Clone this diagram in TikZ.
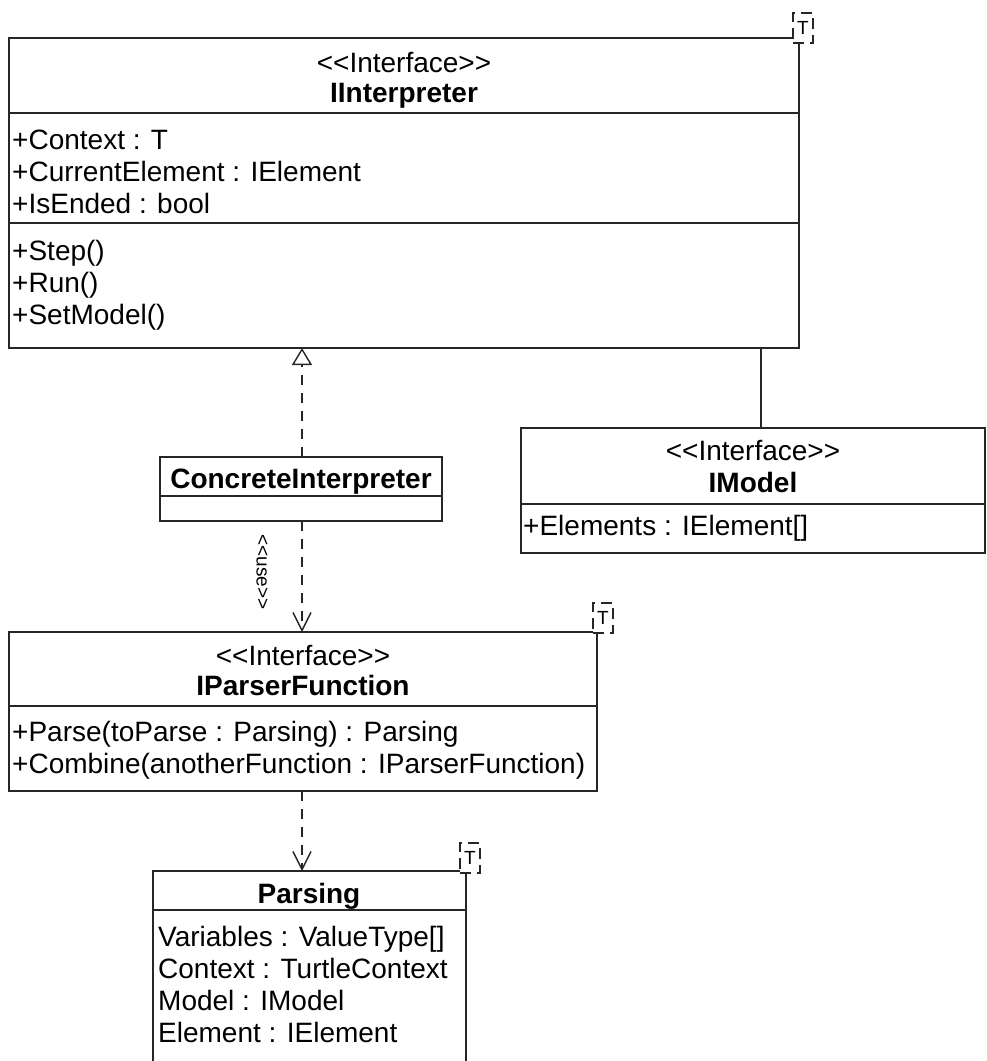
\documentclass[tikz,border=0pt]{standalone}
\usepackage{fontspec}
\newfontfamily\umlfont{Liberation Sans}
\usetikzlibrary{arrows.meta}
\begin{document}
\begin{tikzpicture}[x=1pt,y=-1pt,
  edge/.style={draw=black!85,line width=1.6pt},
  classbox/.style={edge,fill=white,rectangle,inner sep=0pt,outer sep=0pt,anchor=north west},
  tparam/.style={draw=black!85,line width=1.4pt,dash pattern=on 11pt off 6pt,fill=white,
    rectangle,inner sep=0pt,minimum width=20pt,minimum height=30pt,
    font=\umlfont\fontsize{19}{22}\selectfont},
  member/.style={inner sep=0pt,anchor=base west,font=\umlfont\fontsize{28}{34}\selectfont},
  stereo/.style={inner sep=0pt,anchor=base,font=\umlfont\fontsize{28}{34}\selectfont},
  cname/.style={inner sep=0pt,anchor=base,font=\umlfont\bfseries\fontsize{28}{34}\selectfont},
  dep/.style={edge,dash pattern=on 10pt off 8pt},
  realize/.style={dep,-{Triangle[open,length=17pt,width=20pt,line width=1.4pt]}},
  uses/.style={dep,-{Straight Barb[length=18pt,width=18pt,line width=1.4pt]}},
  steretag/.style={inner sep=0pt,rotate=-90,font=\umlfont\fontsize{19}{22}\selectfont}
]
\useasboundingbox (0,0) rectangle (987,1061);
\clip (0,0) rectangle (987,1061);

% IInterpreter
\node[classbox,minimum width=790pt,minimum height=310pt] (ii) at (9,38) {};
\draw[edge] ([yshift=-75pt]ii.north west) -- ([yshift=-75pt]ii.north east);
\draw[edge] ([yshift=-185pt]ii.north west) -- ([yshift=-185pt]ii.north east);
\node[stereo] (ii-st) at (404,72) {<<Interface>>};
\node[cname] (ii-nm) at (404,102) {IInterpreter};
\node[member] (ii-a1) at (12,149) {+Context : T};
\node[member] (ii-a2) at (12,181) {+CurrentElement : IElement};
\node[member] (ii-a3) at (12,213) {+IsEnded : bool};
\node[member] (ii-o1) at (12,260) {+Step()};
\node[member] (ii-o2) at (12,292) {+Run()};
\node[member] (ii-o3) at (12,324) {+SetModel()};
\node[tparam] (ii-t) at (803,28) {T};

% IModel
\node[classbox,minimum width=464pt,minimum height=125pt] (im) at (521,428) {};
\draw[edge] ([yshift=-76pt]im.north west) -- ([yshift=-76pt]im.north east);
\node[stereo] (im-st) at (753,460) {<<Interface>>};
\node[cname] (im-nm) at (753,492) {IModel};
\node[member] (im-a1) at (523,535) {+Elements : IElement[]};

% ConcreteInterpreter
\node[classbox,minimum width=282pt,minimum height=64pt] (ci) at (160,457) {};
\draw[edge] ([yshift=-39pt]ci.north west) -- ([yshift=-39pt]ci.north east);
\node[cname] (ci-nm) at (301,488) {ConcreteInterpreter};

% IParserFunction
\node[classbox,minimum width=588pt,minimum height=159pt] (ipf) at (9,632) {};
\draw[edge] ([yshift=-74pt]ipf.north west) -- ([yshift=-74pt]ipf.north east);
\node[stereo] (ipf-st) at (303,665) {<<Interface>>};
\node[cname] (ipf-nm) at (303,695) {IParserFunction};
\node[member] (ipf-o1) at (12,741) {+Parse(toParse : Parsing) : Parsing};
\node[member] (ipf-o2) at (12,773) {+Combine(anotherFunction : IParserFunction)};
\node[tparam] (ipf-t) at (603,618) {T};

% Parsing
\node[classbox,minimum width=313pt,minimum height=230pt] (pa) at (153,871) {};
\draw[edge] ([yshift=-39pt]pa.north west) -- ([yshift=-39pt]pa.north east);
\node[cname] (pa-nm) at (309,903) {Parsing};
\node[member] (pa-a1) at (158,946) {Variables : ValueType[]};
\node[member] (pa-a2) at (158,978) {Context : TurtleContext};
\node[member] (pa-a3) at (158,1010) {Model : IModel};
\node[member] (pa-a4) at (158,1042) {Element : IElement};
\node[tparam] (pa-t) at (470,858) {T};

% Relations
\draw[realize] ([xshift=1pt]ci.north) -- ([xshift=1pt]ci.north |- ii.south);
\draw[edge] ([xshift=8pt]im.north) -- ([xshift=8pt]im.north |- ii.south);
\draw[uses] ([xshift=1pt]ci.south) -- ([xshift=1pt]ci.south |- ipf.north);
\node[steretag] (use-lbl) at (262,572) {<<use>>};
\draw[uses] ([xshift=1pt]ci.south |- ipf.south) -- ([xshift=1pt]ci.south |- pa.north);
\end{tikzpicture}
\end{document}
